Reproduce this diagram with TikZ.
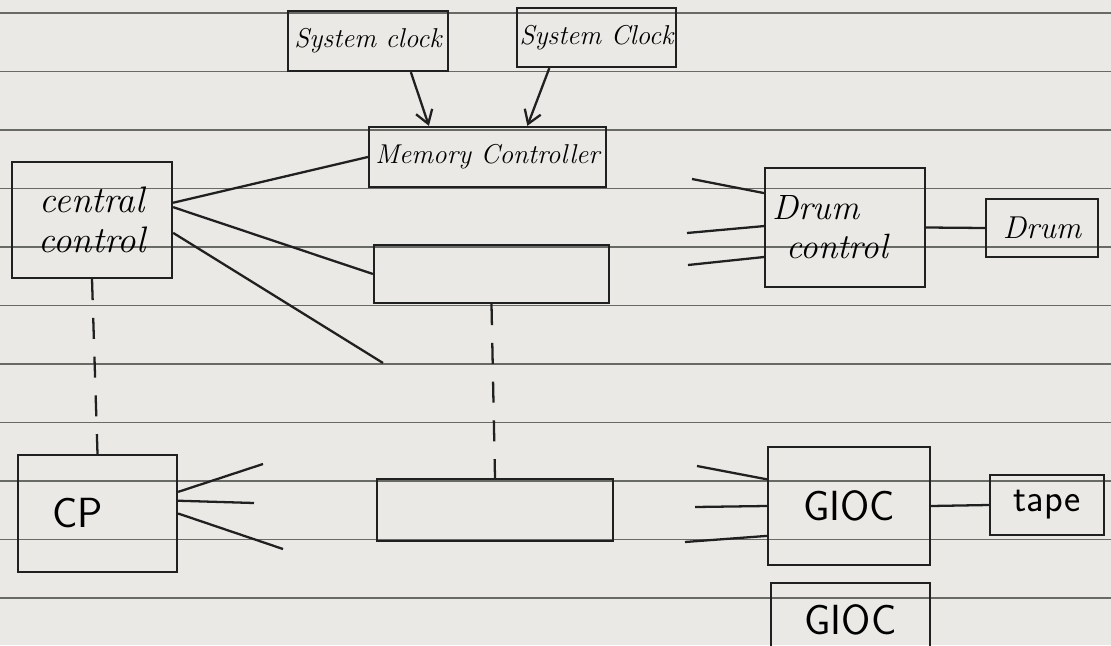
\documentclass[tikz,border=0pt]{standalone}
\usepackage{tikz}
\usetikzlibrary{arrows.meta,positioning}
\usepackage{xcolor}
\definecolor{PaperBg}{RGB}{234, 233, 229}
\definecolor{RuleGray}{RGB}{105, 105, 102}
\definecolor{InkDark}{RGB}{32, 32, 32}

\begin{document}
\begin{tikzpicture}[x=0.02cm, y=-0.02cm,
    box/.style={draw=InkDark, line width=1.3pt, inner sep=2pt},
    wire/.style={draw=InkDark, line width=1.3pt},
    link/.style={wire, dash pattern=on 0.42cm off 0.355cm},
    feed/.style={wire, -{Straight Barb[length=2.6mm, width=3.4mm]}},
    rule/.style={draw=RuleGray, line width=0.7pt},
    handbig/.style={font=\fontsize{21}{23}\selectfont\itshape},
    handmid/.style={font=\fontsize{18}{20}\selectfont\itshape},
    handsmall/.style={font=\fontsize{15.5}{17}\selectfont\itshape},
    print/.style={font=\fontsize{24}{26}\selectfont\sffamily}]
      \useasboundingbox (0,0) rectangle (1111,645);
      \fill[PaperBg] (0,0) rectangle (1111,645);
      \clip (0,0) rectangle (1111,645);
      % Ruled paper
      \foreach \k in {0,...,10}
        \draw[rule] (0,{13+58.5*\k}) -- (1111,{13+58.5*\k});
      % Clocks and memory
      \node[box, handsmall, minimum width=3.2cm, minimum height=1.2cm] (clockA) at (368, 41) {System clock};
      \node[box, handsmall, inner sep=1pt, minimum width=3.18cm, minimum height=1.18cm] (clockB) at (596.5, 37.5) {System Clock};
      \node[box, font=\fontsize{15.5}{17}\selectfont\itshape, inner sep=1pt, minimum width=4.74cm, minimum height=1.2cm] (memctl) at (487.5, 157) {Memory Controller};
      \node[box, minimum width=4.7cm, minimum height=1.16cm] (bankA) at (491.5, 274) {};
      \node[box, minimum width=4.72cm, minimum height=1.24cm] (bankB) at (495, 510) {};
      % Central control and CP
      \node[box, handbig, align=center, minimum width=3.2cm, minimum height=2.32cm] (central) at (92, 220) {central\\control};
      \node[box, print, minimum width=3.18cm, minimum height=2.34cm] (cp) at (97.5, 513.5) {CP\hspace*{0.8cm}};
      % Drum side
      \node[box, font=\fontsize{20}{22}\selectfont\itshape, text width=2.9cm, align=left, minimum width=3.2cm, minimum height=2.38cm] (drumctl) at (845, 227.5) {Drum\\\hspace*{8pt}control};
      \node[box, handmid, minimum width=2.24cm, minimum height=1.16cm] (drum) at (1042, 228) {Drum};
      % I/O side
      \node[box, print, minimum width=3.24cm, minimum height=2.36cm] (gioc) at (849, 506) {GIOC};
      \node[box, font=\fontsize{22}{24}\selectfont\sffamily, minimum width=2.28cm, minimum height=1.2cm] (tape) at (1047, 505) {tape};
      \node[box, print, minimum width=3.18cm, minimum height=1.48cm] (giocB) at (850.5, 620) {GIOC};
      % Loose ends
      \coordinate (ccEnd) at (383, 363);
      \coordinate (cpA) at (263, 464);
      \coordinate (cpB) at (254, 503);
      \coordinate (cpC) at (283, 549);
      \coordinate (dcA) at (692, 179);
      \coordinate (dcB) at (687, 233);
      \coordinate (dcC) at (688, 265);
      \coordinate (gcA) at (697, 466);
      \coordinate (gcB) at (695, 507);
      \coordinate (gcC) at (685, 542);
      % Connections
      \draw[feed] (clockA.-36) -- (memctl.152);
      \draw[feed] (clockB.213) -- (memctl.38);
      \draw[wire] (central.12) -- (memctl.west);
      \draw[wire] (central.9) -- (bankA.west);
      \draw[wire] (central.-9) -- (ccEnd);
      \draw[link] (central.south) -- (cp.north);
      \draw[link] (bankA.south) -- (bankB.north);
      \draw[wire] (cp.15) -- (cpA);
      \draw[wire] (cp.9) -- (cpB);
      \draw[wire] (cp.0) -- (cpC);
      \draw[wire] (dcA) -- (drumctl.157);
      \draw[wire] (dcB) -- (drumctl.179);
      \draw[wire] (dcC) -- (drumctl.200);
      \draw[wire] (drumctl.east) -- (drum.west);
      \draw[wire] (gcA) -- (gioc.162);
      \draw[wire] (gcB) -- (gioc.west);
      \draw[wire] (gcC) -- (gioc.200);
      \draw[wire] (gioc.east) -- (tape.west);
    \end{tikzpicture}
\end{document}
